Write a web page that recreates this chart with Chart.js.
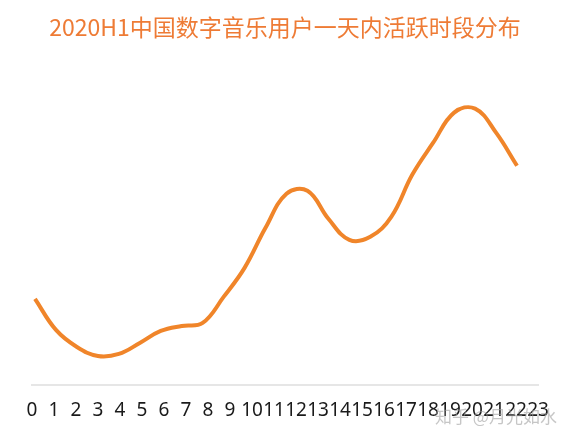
<!DOCTYPE html>
<html>
<head>
<meta charset="utf-8">
<script src="https://cdn.jsdelivr.net/npm/chart.js@4.4.0/dist/chart.umd.min.js"></script>
<style>
  html, body { margin: 0; padding: 0; background: #ffffff; overflow: hidden; }
  #wrap { width: 575px; height: 441px; }
</style>
</head>
<body>
<div id="wrap"><canvas id="chart"></canvas></div>
<script>
// Chart data
const chartTitle = '2020H1中国数字音乐用户一天内活跃时段分布';
const hourLabels = ['0', '1', '2', '3', '4', '5', '6', '7', '8', '9', '10', '11',
    '12', '13', '14', '15', '16', '17', '18', '19', '20', '21', '22', '23'];
const hours = [0, 1, 2, 3, 4, 5, 6, 7, 8, 9, 10, 11, 12, 13, 14, 15, 16, 17, 18, 19, 20, 21, 22, 23];
const activity = [17.2, 11.0, 7.6, 5.8, 6.2, 8.4, 10.8, 11.8, 12.4, 17.6, 23.4, 31.4,
    38.2, 38.8, 33.2, 29.0, 29.6, 33.6, 42.0, 48.4, 54.4, 55.2, 50.4, 43.8];
const watermark = '知乎 @月光如水';

const ORANGE = '#f0852a';

// watermark text at the bottom right
const watermarkPlugin = {
    id: 'watermark',
    afterDraw(chart) {
        const ctx = chart.ctx;
        ctx.save();
        ctx.font = "17px 'Noto Sans CJK SC', sans-serif";
        ctx.fillStyle = 'rgba(160, 160, 160, 0.6)';
        ctx.textAlign = 'left';
        ctx.textBaseline = 'middle';
        ctx.fillText(watermark, 435, 417);
        ctx.restore();
    }
};

new Chart(document.getElementById('chart'), {
    type: 'line',
    data: {
        labels: hourLabels,
        datasets: [{
            data: hours.map((h, i) => ({ x: h, y: activity[i] })),
            xAxisID: 'xLine',
            borderColor: ORANGE,
            borderWidth: 4,
            tension: 0.4,
            pointRadius: 0,
            fill: false,
            clip: false
        }]
    },
    options: {
        responsive: true,
        maintainAspectRatio: false,
        animation: false,
        layout: {
            padding: { left: 32, right: 37, top: 0, bottom: 0 }
        },
        plugins: {
            legend: { display: false },
            tooltip: { enabled: false },
            title: {
                display: true,
                text: chartTitle,
                color: '#ee7b35',
                font: {
                    family: "'Noto Sans CJK SC', sans-serif",
                    size: 23,
                    weight: 'normal'
                },
                padding: { top: 13, bottom: 19 }
            }
        },
        scales: {
            x: {
                type: 'category',
                offset: false,
                grid: { display: false, drawTicks: false },
                border: { display: true, color: '#e6e6e6', width: 2 },
                ticks: {
                    color: '#1a1a1a',
                    autoSkip: false,
                    maxRotation: 0,
                    padding: 14,
                    font: {
                        family: "'Noto Sans', sans-serif",
                        size: 19
                    }
                },
                afterFit(scale) {
                    scale.height = 56;
                }
            },
            xLine: {
                type: 'linear',
                display: false,
                bounds: 'data',
                min: -0.1432,
                max: 24.002
            },
            y: {
                display: false,
                min: 0,
                max: 65
            }
        }
    },
    plugins: [watermarkPlugin]
});
</script>
</body>
</html>
